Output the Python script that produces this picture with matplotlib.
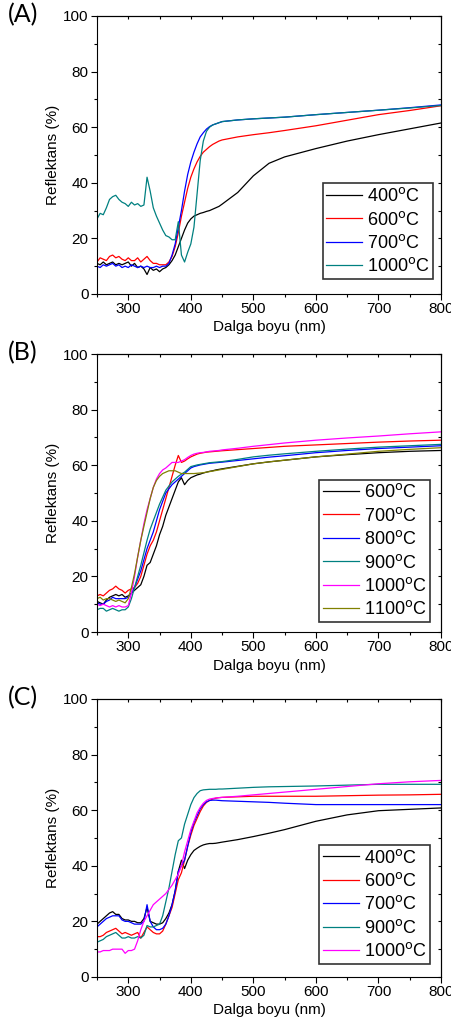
"""UV-Vis reflectance spectra, three panels (A), (B), (C)."""

import matplotlib

matplotlib.use("Agg")
import matplotlib.pyplot as plt
import numpy as np

plt.rcParams["font.family"] = ["Liberation Sans", "DejaVu Sans"]
plt.rcParams["mathtext.default"] = "regular"

# Shared wavelength grid (nm): fine steps through the absorption edge, coarse after.
WAVELENGTH = list(range(250, 451, 5)) + [475, 500, 525, 550, 600, 650, 700, 750, 800]

# Panel (A)
A_LABELS = ["400", "600", "700", "1000"]
A_400 = [11, 10.5, 11.5, 10.5, 11, 11.5, 10.5, 11, 10.5, 11, 11.5, 10, 11, 9.5, 10, 9, 7, 9.5,
         8.5, 9, 8, 9, 9.5, 10.5, 12, 14, 17, 20, 23, 25.5, 27, 28, 28.5, 29, 29.3, 29.7, 30,
         30.5, 31, 31.5, 32.3, 36.5, 42.5, 47, 49.3, 52.3, 55, 57.3, 59.4, 61.5]
A_600 = [11.5, 13, 12.5, 12, 13.5, 14, 13, 13.5, 12.5, 12, 13, 12, 12, 13, 11.5, 12.5, 13.5, 12,
         11, 11, 10.5, 10.5, 10.5, 11.5, 13.5, 17, 22, 28, 33, 38, 42, 45, 47.5, 49.5, 51, 52,
         53, 53.8, 54.4, 55, 55.4, 56.5, 57.3, 58, 58.8, 60.5, 62.5, 64.5, 66, 67.7]
A_700 = [10, 9.5, 10.5, 10, 10.5, 11, 10, 10.5, 9.5, 10, 9.5, 10.5, 10, 9.5, 10, 9.5, 10, 9.5,
         9.5, 10, 9.5, 10, 10, 11, 14, 18, 24, 30, 37, 43, 47.5, 51, 54, 56.5, 58, 59.3, 60.2,
         60.8, 61.2, 61.6, 62, 62.6, 63, 63.3, 63.6, 64.5, 65.3, 66.1, 67, 68]
A_1000 = [27, 29, 28.5, 31, 34, 35, 35.5, 34, 33, 32.5, 31.5, 33, 32, 32.5, 31.5, 32, 42, 37,
          31, 28, 25.5, 23, 21, 20.5, 19.5, 19.5, 26, 14, 11.5, 15, 18, 24, 36, 48, 55, 58.5,
          60, 60.8, 61.2, 61.6, 62, 62.6, 63, 63.3, 63.6, 64.5, 65.3, 66.1, 66.9, 67.8]
A_COLORS = ["black", "red", "blue", "#008080"]

# Panel (B)
B_LABELS = ["600", "700", "800", "900", "1000", "1100"]
B_600 = [11, 10.5, 10, 11.5, 12.5, 13, 13.5, 13, 13.5, 12.5, 13, 14, 15, 16, 17, 20, 24, 25,
         28, 31, 35, 38, 42, 45, 48, 51, 54, 55.5, 53, 54.5, 55.5, 56, 56.5, 56.8, 57.2, 57.5,
         57.8, 58, 58.3, 58.5, 58.7, 59.6, 60.5, 61.2, 61.8, 63, 63.8, 64.5, 65, 65.3]
B_700 = [13, 13.5, 13, 14, 15, 15.5, 16.5, 15.5, 15, 14, 15, 15.5, 16, 17.5, 20, 24, 28, 31,
         33, 36, 40, 44, 48, 52, 56, 60, 63.5, 61, 61.5, 62.3, 63, 63.5, 64, 64.3, 64.5, 64.7,
         64.8, 64.9, 65, 65.1, 65.2, 65.6, 66, 66.4, 66.8, 67.3, 67.8, 68.3, 68.7, 69]
B_800 = [10.5, 10, 10, 11, 11.5, 12.5, 12, 12, 12, 12, 12.5, 14, 16, 19, 22, 26, 30, 33, 36,
         40, 44, 47, 50, 51.5, 53, 54, 55, 56, 57, 58, 59, 59.5, 59.8, 60.1, 60.3, 60.5, 60.7,
         60.8, 60.9, 61, 61.1, 61.7, 62.3, 62.9, 63.4, 64.5, 65.3, 66, 66.5, 67]
B_900 = [8, 8.5, 8.5, 7.5, 8, 8.5, 8, 7.5, 8, 8, 9, 12, 16, 20, 24, 28.5, 33, 37, 40, 43, 46,
         48.5, 51, 52.5, 54, 55, 56, 56.8, 57.5, 58.5, 59.5, 59.8, 60.1, 60.3, 60.5, 60.7, 60.9,
         61, 61.1, 61.2, 61.3, 62.1, 63, 63.6, 64.1, 65, 65.8, 66.5, 67, 67.5]
B_1000 = [10, 9.5, 10, 9.5, 9, 9.5, 9, 9.5, 9, 9, 9.5, 14, 20, 27, 33, 39, 44, 48, 52, 55, 57,
          58.3, 59, 60, 61, 61, 61, 61.5, 62, 62.8, 63.5, 64, 64.3, 64.5, 64.6, 64.8, 65, 65.1,
          65.2, 65.3, 65.5, 66.1, 66.8, 67.4, 68, 69, 69.8, 70.5, 71.3, 72]
B_1100 = [12, 12.5, 11.5, 12, 12, 11.5, 11, 11.5, 11, 10.5, 12, 16, 21, 27, 33, 38, 43, 48, 52,
          54.5, 56, 57, 57.5, 58, 58, 58, 57.5, 57, 57, 57, 57, 57, 57.1, 57.2, 57.3, 57.5, 57.7,
          57.9, 58.1, 58.3, 58.5, 59.5, 60.5, 61.2, 61.8, 63, 64, 65, 65.7, 66.3]
B_COLORS = ["black", "red", "blue", "#008080", "magenta", "#808000"]

# Panel (C)
C_LABELS = ["400", "600", "700", "900", "1000"]
C_400 = [19, 20, 21, 22, 23, 23.5, 22.5, 22.5, 21, 20.5, 20.5, 20, 20, 19.5, 19.5, 21, 25, 20,
         19.5, 19, 19, 19.5, 21, 23, 26, 31, 38, 42, 39, 42, 44, 45.5, 46.3, 47, 47.5, 47.8, 48,
         48, 48.1, 48.3, 48.5, 49.4, 50.5, 51.7, 53, 56, 58.3, 59.8, 60.3, 60.8]
C_600 = [14.5, 14.5, 15, 16, 16.5, 17, 17.5, 16.5, 15.5, 16, 15.5, 15, 15.5, 16, 14, 16, 18, 17,
         16, 15.5, 15.5, 16.5, 19, 22, 25, 30, 35, 37.5, 42, 47, 51, 54.5, 57, 59.5, 61.5, 62.8,
         63.5, 64, 64.3, 64.5, 64.6, 64.8, 65, 65, 65, 65, 65.2, 65.4, 65.5, 65.7]
C_700 = [18, 19, 20, 21, 21.5, 22, 22, 22, 20.5, 20, 20, 19.5, 19, 19, 19, 20, 26, 20, 18, 17,
         17, 17.5, 19, 22, 26, 31, 38, 40, 42, 47, 52, 55.5, 58, 60.5, 62, 63, 63.5, 63.6, 63.6,
         63.5, 63.4, 63.2, 63, 62.8, 62.5, 62, 62, 62, 62, 62]
C_900 = [12.5, 13, 13.5, 14.5, 15, 15.5, 16, 15, 14, 14, 14.5, 14, 14, 14.5, 14, 15, 18.5, 18,
         18, 18.5, 19, 22, 27, 32, 38, 44, 49, 50, 55, 58.5, 62, 64.5, 66, 67, 67.3, 67.4, 67.5,
         67.5, 67.5, 67.6, 67.6, 67.9, 68.2, 68.4, 68.5, 68.7, 69, 69.3, 69.3, 69.3]
C_1000 = [9, 9, 9.5, 9.5, 9.5, 10, 10, 10, 10, 8.5, 9.5, 9.5, 10, 13, 17, 20, 22, 24, 26, 27,
          28, 29, 30, 31.5, 33, 35, 37, 40, 45, 49, 53, 56, 59, 61, 62.5, 63.5, 64, 64.2, 64.4,
          64.5, 64.6, 65, 65.5, 66, 66.5, 67.5, 68.5, 69.5, 70.2, 70.7]
C_COLORS = ["black", "red", "blue", "#008080", "magenta"]

X_TICKS = [300, 400, 500, 600, 700, 800]
Y_TICKS = [0, 20, 40, 60, 80, 100]


def draw_panel(fig, rect, tag, series, labels, colors, legend_anchor):
    ax = fig.add_axes(rect)
    for values, label, color in zip(series, labels, colors):
        ax.plot(WAVELENGTH, values, color=color, lw=0.9,
                label=label + r"$^{\mathrm{o}}$C")
    ax.set_xlim(250, 800)
    ax.set_ylim(0, 100)
    ax.set_xticks(X_TICKS)
    ax.set_xticks(np.arange(250, 801, 50), minor=True)
    ax.set_yticks(Y_TICKS)
    ax.set_yticks(np.arange(0, 101, 10), minor=True)
    ax.tick_params(which="both", direction="out", top=False, right=False,
                   labelsize=11, width=0.8, pad=2)
    ax.tick_params(which="major", length=4)
    ax.tick_params(which="minor", length=2.5)

    top = ax.secondary_xaxis("top")
    top.set_xticks(np.arange(250, 801, 50))
    top.tick_params(direction="in", length=2.5, width=0.8, labeltop=False)
    right = ax.secondary_yaxis("right")
    right.set_yticks(np.arange(0, 101, 10))
    right.tick_params(direction="in", length=2.5, width=0.8, labelright=False)

    ax.set_xlabel("Dalga boyu (nm)", fontsize=11, labelpad=3)
    ax.set_ylabel("Reflektans (%)", fontsize=11, labelpad=2)
    leg = ax.legend(loc="lower right", bbox_to_anchor=legend_anchor, fontsize=13,
                    fancybox=False, edgecolor="#333333", framealpha=1,
                    handlelength=2.0, handletextpad=0.25, labelspacing=0.3,
                    borderpad=0.2, borderaxespad=0)
    leg.get_frame().set_linewidth(1.2)

    fig.text(0.018, rect[1] + rect[3] + 0.013, tag, fontsize=18,
             family=["Lato", "DejaVu Sans"], va="top", ha="left")
    return ax


fig = plt.figure(figsize=(4.51, 10.30), dpi=100)
left, width, height = 0.2151, 0.7627, 0.2699

draw_panel(fig, [left, 0.7146, width, height], "(A)",
           [A_400, A_600, A_700, A_1000], A_LABELS, A_COLORS, (0.977, 0.054))
draw_panel(fig, [left, 0.3864, width, height], "(B)",
           [B_600, B_700, B_800, B_900, B_1000, B_1100], B_LABELS, B_COLORS,
           (0.968, 0.036))
draw_panel(fig, [left, 0.0515, width, height], "(C)",
           [C_400, C_600, C_700, C_900, C_1000], C_LABELS, C_COLORS, (0.968, 0.047))

fig.savefig("out.png", dpi=100)
